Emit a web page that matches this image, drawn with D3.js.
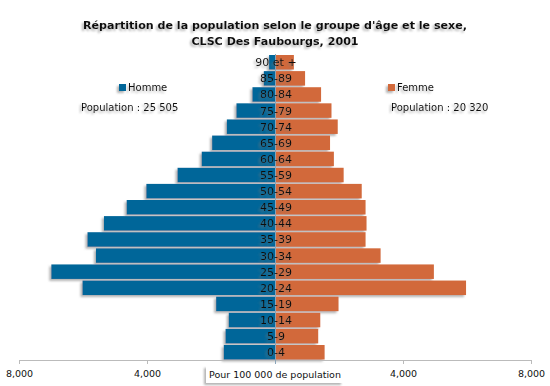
<!DOCTYPE html>
<html>
<head>
<meta charset="utf-8">
<script src="https://cdn.jsdelivr.net/npm/d3@7"></script>
<style>
  body { margin: 0; background: #fff; }
  text { font-family: "DejaVu Sans", Verdana, sans-serif; }
</style>
</head>
<body>
<svg id="pyramide"></svg>
<script>
var width = 550, height = 386;

// données
var ages = ["90 et +","85-89","80-84","75-79","70-74","65-69","60-64","55-59","50-54","45-49",
            "40-44","35-39","30-34","25-29","20-24","15-19","10-14","5-9","0-4"];
var hommes = [185,350,705,1205,1505,1965,2290,3045,4020,4635,5345,5860,5595,6990,6015,1840,1445,1545,1600];
var femmes = [590,940,1440,1765,1960,1720,1840,2145,2710,2830,2860,2830,3300,4965,5970,1985,1415,1350,1550];
var tickVals = [-8000,-4000,0,4000,8000];
var titre = ["Répartition de la population selon le groupe d'âge et le sexe,", "CLSC Des Faubourgs, 2001"];

var bleu = "#006699", orange = "#D2693A";

var svg = d3.select("#pyramide").attr("width", width).attr("height", height);

// ombre portée grise
var defs = svg.append("defs");
defs.append("filter").attr("id","ombre").attr("x","-20%").attr("y","-40%").attr("width","140%").attr("height","180%")
  .append("feDropShadow").attr("dx",-2).attr("dy",2).attr("stdDeviation",1.3)
  .attr("flood-color","#777").attr("flood-opacity",0.55);

var x = d3.scaleLinear().domain([-8000, 8000]).range([19, 531]);
var y = d3.scaleBand().domain(ages).range([55, 359.5]).paddingInner(0.1).paddingOuter(0);
var cx = x(0);

// titre
svg.append("g").attr("filter","url(#ombre)")
  .selectAll("text").data(titre).enter().append("text")
  .attr("x", cx).attr("y", function(d,i){ return 29 + i*15.5; })
  .attr("text-anchor","middle").attr("font-size","11.1px").attr("font-weight","bold")
  .attr("fill","#111")
  .text(function(d){ return d; });

// barres
var barres = svg.append("g").attr("filter","url(#ombre)");
barres.selectAll(".h").data(hommes).enter().append("rect")
  .attr("x", function(d){ return x(-d); })
  .attr("y", function(d,i){ return y(ages[i]); })
  .attr("width", function(d){ return x(0) - x(-d); })
  .attr("height", y.bandwidth())
  .attr("fill", bleu);
barres.selectAll(".f").data(femmes).enter().append("rect")
  .attr("x", x(0))
  .attr("y", function(d,i){ return y(ages[i]); })
  .attr("width", function(d){ return x(d) - x(0); })
  .attr("height", y.bandwidth())
  .attr("fill", orange);

// axe
var axe = svg.append("g").attr("transform","translate(0,360)")
  .call(d3.axisBottom(x).tickValues(tickVals).tickSizeInner(4).tickSizeOuter(0).tickPadding(6)
    .tickFormat(function(d){ return d === 0 ? "" : d3.format(",")(Math.abs(d)); }));
axe.select(".domain").attr("stroke","#bbb");
axe.selectAll(".tick line").attr("stroke","#bbb");
axe.selectAll(".tick text").attr("font-family","DejaVu Sans, sans-serif").attr("font-size","9.5px").attr("fill","#111");

// ligne centrale
svg.append("line").attr("x1", cx+0.5).attr("x2", cx+0.5).attr("y1", 54).attr("y2", 364)
  .attr("stroke","#8aa4b8").attr("stroke-width",1);

// étiquettes des groupes d'âge
svg.append("g").attr("filter","url(#ombre)")
  .selectAll("text").data(ages).enter().append("text")
  .attr("x", cx+1).attr("y", function(d){ return y(d) + y.bandwidth()/2; })
  .attr("dy","0.36em").attr("text-anchor","middle").attr("font-size","11px").attr("fill","#111")
  .text(function(d){ return d; });

// légende
var leg = svg.append("g").attr("filter","url(#ombre)");
leg.append("rect").attr("x",119).attr("y",84).attr("width",7).attr("height",7).attr("fill",bleu);
leg.append("text").attr("x",128).attr("y",87.5).attr("dy","0.36em").attr("font-size","10px").attr("fill","#111").text("Homme");
leg.append("text").attr("x",81).attr("y",107).attr("dy","0.36em").attr("font-size","10px").attr("fill","#111").text("Population : 25 505");
leg.append("rect").attr("x",388).attr("y",84).attr("width",7).attr("height",7).attr("fill",orange);
leg.append("text").attr("x",397).attr("y",87.5).attr("dy","0.36em").attr("font-size","10px").attr("fill","#111").text("Femme");
leg.append("text").attr("x",391).attr("y",107).attr("dy","0.36em").attr("font-size","10px").attr("fill","#111").text("Population : 20 320");

// étiquette de l'axe
var lab = svg.append("g");
lab.append("rect").attr("x",206).attr("y",366).attr("width",137).attr("height",17)
  .attr("fill","#fff").attr("filter","url(#ombre)");
lab.append("text").attr("x",209).attr("y",374.5).attr("dy","0.36em").attr("font-size","9.5px").attr("fill","#111")
  .text("Pour 100 000 de population");
</script>
</body>
</html>
